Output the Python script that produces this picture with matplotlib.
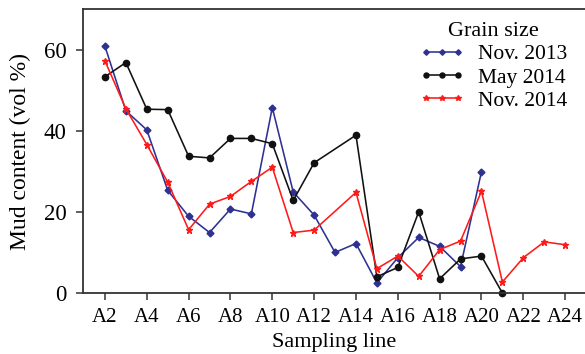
import numpy as np
import matplotlib
matplotlib.use("Agg")
import matplotlib.pyplot as plt

lines = [f"A{i}" for i in range(2, 25)]
tick_labels = [f"A{i}" for i in range(2, 25, 2)]
nan = np.nan
nov2013 = [60.8, 44.9, 40.2, 25.3, 18.9, 14.9, 20.7, 19.5, 45.7, 24.9, 19.2, 10.0,
           12.2, 2.5, 8.7, 13.7, 11.5, 6.5, 29.9, nan, nan, nan, nan]
may2014 = [53.3, 56.8, 45.3, 45.2, 33.7, 33.3, 38.1, 38.1, 36.8, 22.8, 32.1, nan,
           38.9, 4.0, 6.3, 20.0, 3.5, 8.4, 9.1, 0.0, nan, nan, nan]
nov2014 = [57.2, 45.4, 36.6, 27.3, 15.6, 21.9, 23.8, 27.5, 31.0, 14.9, 15.5, nan,
           24.8, 6.0, 9.1, 4.1, 10.7, 12.8, 25.1, 2.7, 8.7, 12.6, 11.9]
series_names = ["Nov. 2013", "May 2014", "Nov. 2014"]

plt.rcParams['font.family'] = ['Liberation Serif', 'DejaVu Serif']
fig = plt.figure(figsize=(5.85, 3.54), dpi=100)
ax = fig.add_axes([83/585, 1-293/354, 1-83/585, (293-9)/354])

x = np.arange(len(lines))
styles = [
    (nov2013, dict(color='#2e3192', marker='D', markersize=3.5)),
    (may2014, dict(color='#111111', marker='o', markersize=4.5)),
    (nov2014, dict(color='#ff1a1a', marker='*', markersize=5)),
]
for (vals, st), name in zip(styles, series_names):
    v = np.array(vals, dtype=float)
    m = ~np.isnan(v)
    ax.plot(x[m], v[m], lw=1.15, label=name, clip_on=False, **st)

ax.set_xlim(-1.05, 22.95)
ax.set_ylim(0, 70)
ax.set_xticks(np.arange(0, 23, 2))
ax.set_xticklabels(tick_labels)
ax.set_yticks([0, 20, 40, 60])
ax.spines['right'].set_visible(False)
for s in ['left', 'bottom', 'top']:
    ax.spines[s].set_linewidth(1.3)
    ax.spines[s].set_color('#333333')
ax.tick_params(direction='out', length=5, width=1.1, color='#333333')
ax.tick_params(axis='x', labelsize=15, pad=6)
ax.tick_params(axis='y', labelsize=16.5, pad=7)
ax.set_xlabel("Sampling line", fontsize=16, labelpad=4)
ax.set_ylabel("Mud content (vol %)", fontsize=17, labelpad=9)
leg = ax.legend(title="Grain size", frameon=False, fontsize=15.5, title_fontsize=16,
                loc='upper right', bbox_to_anchor=(0.99, 1.0), handlelength=2.1,
                numpoints=3, handletextpad=0.6, labelspacing=0.15, borderaxespad=0.2,
                markerscale=0.8)
fig.savefig("out.png", dpi=100)
